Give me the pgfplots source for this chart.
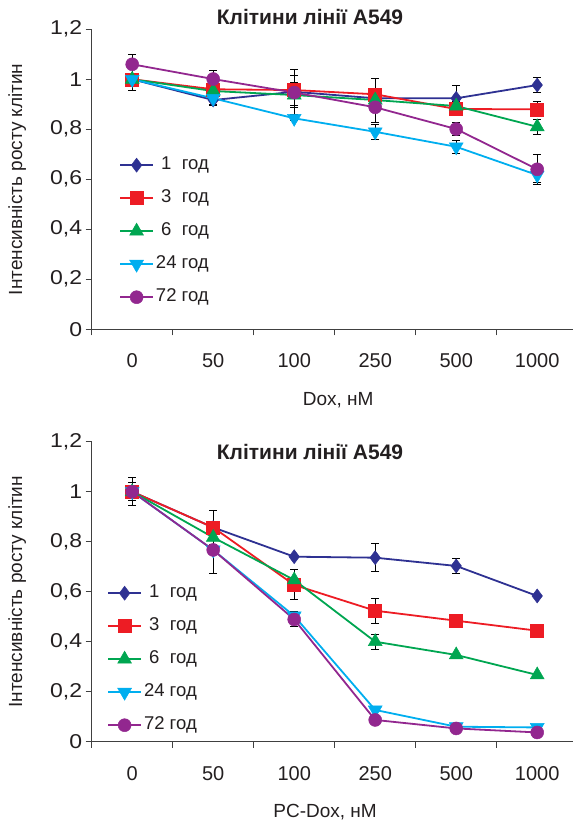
\documentclass[border=0pt]{standalone}
\usepackage{pgfplots}
\pgfplotsset{compat=1.18}
\usepackage{fontspec}
\setmainfont{Liberation Sans}
\newfontfamily\yfont[FakeStretch=1.15]{Liberation Sans}
\definecolor{cA}{HTML}{2E3192}
\definecolor{cB}{HTML}{ED1C24}
\definecolor{cC}{HTML}{00A651}
\definecolor{cD}{HTML}{00AEEF}
\definecolor{cE}{HTML}{92278F}
\definecolor{axc}{HTML}{404040}
\definecolor{txt}{HTML}{231F20}
\pgfplotsset{
  myaxis/.style={
    scale only axis, width=481.3pt, height=300pt,
    xmin=-0.5, xmax=5.442, ymin=0, ymax=1.2,
    clip=false,
    axis x line=bottom, axis y line=left,
    axis line style={-, draw=axc, line width=1pt},
    tick align=outside,
    major tick length=6pt,
    tick style={draw=axc, line width=1pt},
    xtick={-0.5,0.5,1.5,2.5,3.5,4.5}, xticklabels={},
    extra x ticks={0,1,2,3,4,5},
    extra x tick labels={0,50,100,250,500,1000},
    extra x tick style={major tick length=0pt, tick label style={yshift=-21pt}},
    ytick={0,0.2,0.4,0.6,0.8,1,1.2},
    /pgf/number format/use comma,
    /pgf/number format/assume math mode=true,
    tick label style={font=\fontsize{20}{24}\selectfont, text=txt},
    yticklabel style={font=\yfont\fontsize{20}{24}\selectfont},
    every axis y label/.style={at={(axis description cs:-0.155,0.5)}, rotate=90, anchor=center, font=\fontsize{19}{23}\selectfont, text=txt},
    every axis title/.style={anchor=center, font=\bfseries\fontsize{21}{25}\selectfont, text=txt},
    ylabel={Інтенсивність росту клітин},
    legend cell align=left,
    legend style={draw=none, fill=none, inner sep=0pt, anchor=north west,
      font=\fontsize{18.5}{21}\selectfont, text=txt,
      nodes={inner xsep=2pt, inner ysep=0pt, text height=13pt, text depth=4pt},
      row sep=16pt},
    legend image code/.code={\draw[mark repeat=2,mark phase=2] plot coordinates {(0pt,0pt)(16.5pt,0pt)(33pt,0pt)};},
    error bars/y dir=both, error bars/y explicit,
    error bars/error bar style={black, line width=1pt},
    error bars/error mark options={rotate=90, black, mark size=4pt, line width=1pt},
  },
  s1/.style={cA, line width=1.8pt, mark=diamond*, mark size=7pt, mark options={fill=cA, draw=cA, line width=0.5pt}},
  s2/.style={cB, line width=1.8pt, mark=square*, mark size=6.5pt, mark options={fill=cB, draw=cB, line width=0.5pt}},
  s3/.style={cC, line width=1.8pt, mark=triangle*, mark size=8pt, mark options={fill=cC, draw=cC, line width=0.5pt}},
  s4/.style={cD, line width=1.8pt, mark=triangle*, mark size=8pt, mark options={fill=cD, draw=cD, rotate=180, line width=0.5pt}},
  s5/.style={cE, line width=1.8pt, mark=*, mark size=6.5pt, mark options={fill=cE, draw=cE, line width=0.5pt}},
}
\newcommand{\one}[1]{\hspace*{0.28em}#1\hspace*{0.56em}год}
\newcommand{\two}[1]{#1\hspace*{0.28em}год}
\begin{document}
\begin{tikzpicture}
\path[use as bounding box] (0,0) rectangle (573pt,821pt);
% ---------------- top chart ----------------
\begin{axis}[myaxis, at={(91.7pt,491.7pt)}, anchor=south west,
  title={Клітини лінії А549},
  title style={at={(axis description cs:0.4536,1.041)}},
  xlabel={Dox, нМ},
  every axis x label/.style={at={(axis description cs:0.512,-0.236)}, anchor=center, font=\fontsize{19}{23}\selectfont, text=txt},
  legend style={at={(axis description cs:0.0567,0.576)}}]
\addplot[s1] coordinates {(0,1.00) +- (0,0.045) (1,0.917) +- (0,0.02) (2,0.95) +- (0,0.09) (3,0.924) +- (0,0.03) (4,0.924) +- (0,0.05) (5,0.977) +- (0,0.03)};
\addplot[s2] coordinates {(0,1.00) +- (0,0) (1,0.96) +- (0,0) (2,0.957) +- (0,0.06) (3,0.94) +- (0,0.065) (4,0.881) +- (0,0.02) (5,0.88) +- (0,0.03)};
\addplot[s3] coordinates {(0,1.00) +- (0,0) (1,0.953) +- (0,0) (2,0.937) +- (0,0.05) (3,0.917) +- (0,0.04) (4,0.893) +- (0,0.02) (5,0.81) +- (0,0.03)};
\addplot[s4] coordinates {(0,1.00) +- (0,0) (1,0.924) +- (0,0.025) (2,0.844) +- (0,0.01) (3,0.79) +- (0,0.03) (4,0.73) +- (0,0.025) (5,0.617) +- (0,0.03)};
\addplot[s5] coordinates {(0,1.06) +- (0,0.04) (1,1.001) +- (0,0.035) (2,0.947) +- (0,0) (3,0.888) +- (0,0.06) (4,0.801) +- (0,0.025) (5,0.64) +- (0,0.06)};
\legend{\one{1},\one{3},\one{6},\two{24},\two{72}}
\end{axis}
% ---------------- bottom chart ----------------
\begin{axis}[myaxis, at={(91.7pt,79.3pt)}, anchor=south west,
  title={Клітини лінії А549},
  title style={at={(axis description cs:0.4536,0.966)}},
  xlabel={PC-Dox, нМ},
  every axis x label/.style={at={(axis description cs:0.485,-0.234)}, anchor=center, font=\fontsize{19}{23}\selectfont, text=txt},
  legend style={at={(axis description cs:0.0318,0.524)}}]
\addplot[s1] coordinates {(0,1.00) +- (0,0.056) (1,0.857) +- (0,0) (2,0.74) +- (0,0) (3,0.736) +- (0,0.057) (4,0.703) +- (0,0.03) (5,0.583) +- (0,0)};
\addplot[s2] coordinates {(0,1.00) +- (0,0.035) (1,0.857) +- (0,0.067) (2,0.627) +- (0,0.06) (3,0.524) +- (0,0.05) (4,0.484) +- (0,0) (5,0.444) +- (0,0)};
\addplot[s3] coordinates {(0,1.00) +- (0,0) (1,0.817) +- (0,0) (2,0.647) +- (0,0.04) (3,0.40) +- (0,0.03) (4,0.347) +- (0,0) (5,0.267) +- (0,0)};
\addplot[s4] coordinates {(0,1.00) +- (0,0) (1,0.767) +- (0,0) (2,0.503) +- (0,0.015) (3,0.127) +- (0,0) (4,0.06) +- (0,0) (5,0.057) +- (0,0)};
\addplot[s5] coordinates {(0,1.00) +- (0,0) (1,0.767) +- (0,0.093) (2,0.489) +- (0,0.03) (3,0.087) +- (0,0) (4,0.053) +- (0,0) (5,0.037) +- (0,0.02)};
\legend{\one{1},\one{3},\one{6},\two{24},\two{72}}
\end{axis}
\end{tikzpicture}
\end{document}
